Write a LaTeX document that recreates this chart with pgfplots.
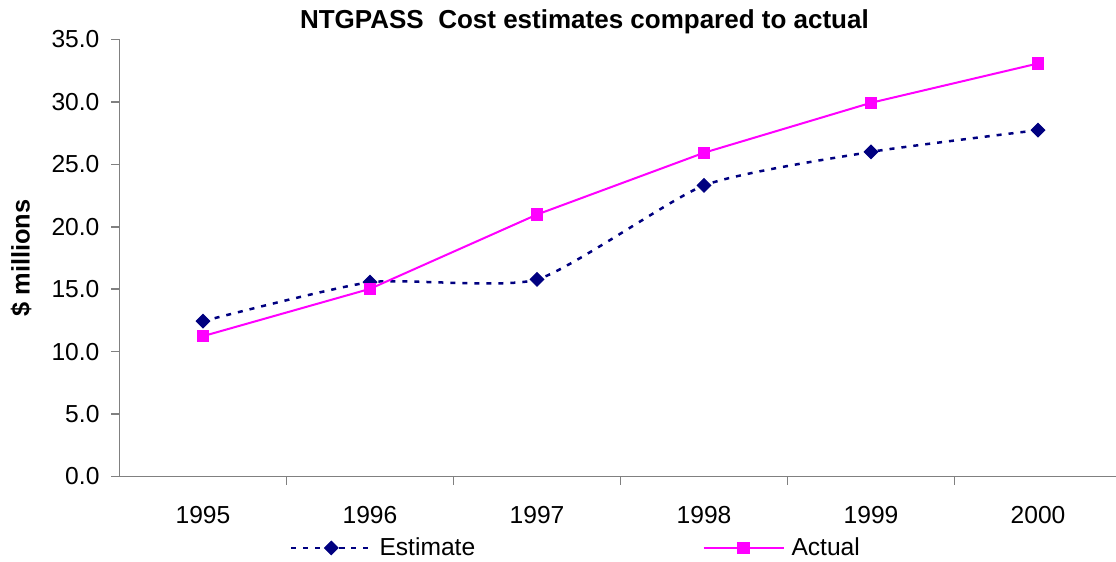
\documentclass[border=0pt]{standalone}
\usepackage{pgfplots}
\pgfplotsset{compat=1.18}
\usepackage{fontspec}
\setmainfont{Liberation Sans}
\definecolor{estc}{RGB}{0,0,128}
\definecolor{actc}{RGB}{255,0,255}
\definecolor{axc}{RGB}{128,128,128}
\begin{document}
\begin{tikzpicture}
\begin{axis}[
  name=ax,
  scale only axis,
  width=498.25pt, height=218.5pt,
  xmin=-0.5, xmax=5.467,
  ymin=0, ymax=35,
  axis x line*=bottom, axis y line*=left,
  axis line style={axc, line width=0.75pt},
  font=\fontsize{12.3}{14}\selectfont,
  /pgf/number format/assume math mode=true,
  ytick={0,5,...,35},
  yticklabel style={/pgf/number format/fixed, /pgf/number format/fixed zerofill, /pgf/number format/precision=1, xshift=-2.5pt},
  xtick={0.5,1.5,2.5,3.5,4.5},
  xticklabels={},
  extra x ticks={0,1,2,3,4,5},
  extra x tick labels={1995,1996,1997,1998,1999,2000},
  extra x tick style={major tick length=0pt, tick style={draw=none}, xticklabel style={yshift=-11.5pt}},
  tick align=outside,
  major tick length=4pt,
  tick style={axc, line width=0.75pt},
  every axis title shift=0pt,
  title={NTGPASS~~Cost estimates compared to actual},
  title style={font=\bfseries\fontsize{13}{15}\selectfont, at={(axis description cs:0.4666,1)}, anchor=base, yshift=5.25pt},
  ylabel={\$ millions},
  ylabel style={font=\bfseries\fontsize{12.7}{15}\selectfont, at={(axis description cs:-0.0988,0.5)}, anchor=center},
  legend columns=2,
  legend style={draw=none, fill=none, at={(axis description cs:0.1711,-0.1636)}, anchor=west, inner sep=0pt, outer sep=0pt, column sep=3.5pt, nodes={inner sep=0pt}, font=\fontsize{12.3}{14}\selectfont},
  legend cell align=left,
  legend image code/.code={\draw[#1, mark repeat=2, mark phase=2] plot coordinates {(0pt,0pt) (20pt,0pt) (40pt,0pt)};},
]
\addplot[estc, line width=1.25pt, dash pattern=on 2.5pt off 3.5pt, smooth, tension=0.35, mark=square*, mark size=2.4pt, mark options={solid, rotate=45, fill=estc, line width=0.5pt}]
  coordinates {(0,12.44)(1,15.56)(2,15.78)(3,23.31)(4,26.0)(5,27.74)};
\addlegendentry{\makebox[158pt][l]{Estimate}}
\addplot[actc, line width=1pt, mark=square*, mark size=2.8pt, mark options={solid, fill=actc, line width=0.5pt}]
  coordinates {(0,11.24)(1,15.03)(2,20.98)(3,25.93)(4,29.93)(5,33.08)};
\addlegendentry{Actual}
\end{axis}
\pgfresetboundingbox
\path[use as bounding box] ([xshift=-59.75pt, yshift=-42.25pt]ax.south west) rectangle ([yshift=19.75pt]ax.north east);
\end{tikzpicture}
\end{document}
